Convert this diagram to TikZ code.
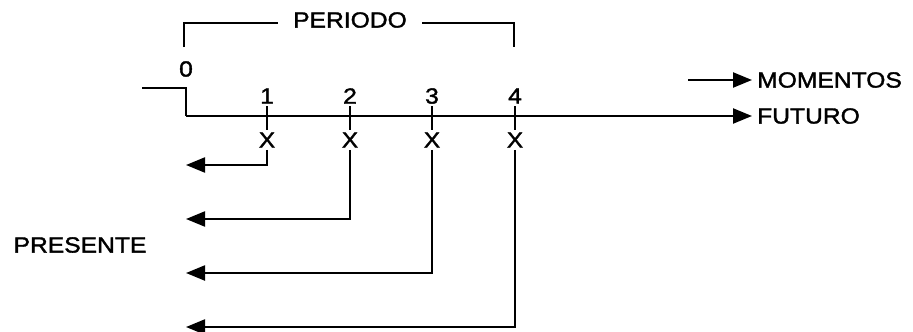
\documentclass[tikz,border=0pt]{standalone}
\usepackage{fontspec}
\setmainfont[FakeStretch=1.12,FakeBold=1.6]{Liberation Sans}
\usetikzlibrary{arrows.meta}
\begin{document}
\begin{tikzpicture}[x=1pt,y=-1pt,
  lbl/.style={font=\fontsize{22}{22}\selectfont, inner sep=0pt},
  ln/.style={line width=2.2pt},
  thin ln/.style={line width=1.8pt},
  arr/.style={ln,-{Triangle[length=19pt,width=15pt]}}]
\useasboundingbox (0,0) rectangle (913,332);
% bracket PERIODO
\node[lbl, inner xsep=15pt] (periodo) at (350,20) {PERIODO};
\coordinate (bl) at (184,47);
\coordinate (br) at (514,47);
\draw[thin ln] (bl) |- (periodo.west |- 0,23);
\draw[thin ln] (periodo.east |- 0,23) -| (br);
% zero and axis
\node[lbl] (n0) at (186,69) {0};
\coordinate (pre) at (142,88);
\coordinate (c0) at (186,88);
\coordinate (a0) at (186,116);
\node[lbl, anchor=west, inner xsep=5pt] (futuro) at (752,116) {FUTURO};
\draw[ln] (pre) -- (c0) -- (a0);
\draw[arr] (a0) -- (futuro.west);
% momentos
\node[lbl, anchor=west, inner xsep=5pt] (momentos) at (752,80) {MOMENTOS};
\coordinate (ms) at (688,80);
\draw[arr] (ms) -- (momentos.west);
% ticks, labels, X marks and return arrows
\foreach \i/\x/\y in {1/267/165, 2/350/219, 3/432/273, 4/515/327}{
  \node[lbl] (t\i) at (\x,96) {\i};
  \coordinate (tt\i) at (\x,106);
  \node[lbl, inner ysep=2pt] (x\i) at (\x,140) {X};
  \draw[thin ln] (tt\i) -- (x\i.north);
  \coordinate (r\i) at (186,\y);
  \draw[arr] (x\i.south) |- (r\i);
}
\node[lbl] (presente) at (80,245) {PRESENTE};
\end{tikzpicture}
\end{document}
